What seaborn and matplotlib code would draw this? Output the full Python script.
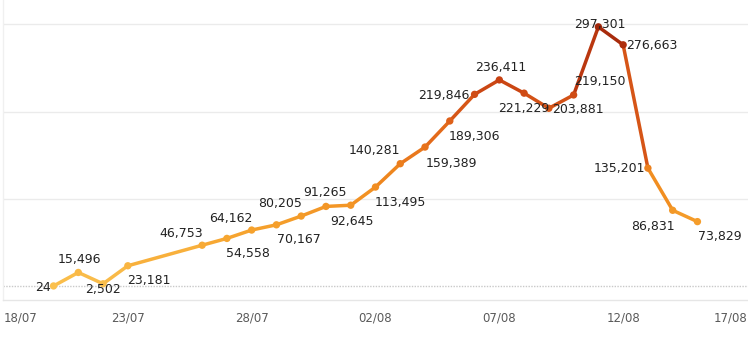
import numpy as np
import pandas as pd
import matplotlib
matplotlib.use("Agg")
import matplotlib.pyplot as plt
from matplotlib.colors import LinearSegmentedColormap, Normalize
import seaborn as sns

# ---- data ----
dates = ["2021-07-20", "2021-07-21", "2021-07-22", "2021-07-23", "2021-07-26",
         "2021-07-27", "2021-07-28", "2021-07-29", "2021-07-30", "2021-07-31",
         "2021-08-01", "2021-08-02", "2021-08-03", "2021-08-04", "2021-08-05",
         "2021-08-06", "2021-08-07", "2021-08-08", "2021-08-09", "2021-08-10",
         "2021-08-11", "2021-08-12", "2021-08-13", "2021-08-14", "2021-08-15"]
values = [24, 15496, 2502, 23181, 46753,
          54558, 64162, 70167, 80205, 91265,
          92645, 113495, 140281, 159389, 189306,
          219846, 236411, 221229, 203881, 219150,
          297301, 276663, 135201, 86831, 73829]
tick_dates = ["2021-07-18", "2021-07-23", "2021-07-28", "2021-08-02",
              "2021-08-07", "2021-08-12", "2021-08-17"]
tick_labels = ["18/07", "23/07", "28/07", "02/08", "07/08", "12/08", "17/08"]

# label offsets (pixels, x right / y up) relative to each point
label_dx = [-11, 1, 0, 21, -21, 21, -21, 22, -21, -1, 1, 25, -26, 26, 25,
            -31, 1, 0, 29, 26, 1, 29, -28, -20, 22]
label_dy = [-2, 13, -6, -15, 12, -15, 12, -15, 13, 14, -16, -15, 13, -16, -16,
            -1, 12, -15, -1, 13, 2, -1, 0, -16, -15]

df = pd.DataFrame({"date": pd.to_datetime(dates), "value": values})

sns.set_style("white")
plt.rcParams["font.family"] = ["DejaVu Sans"]

cmap = LinearSegmentedColormap.from_list(
    "tabor", ["#FAC04E", "#F6A32E", "#F08A1F", "#E2661A", "#C63F12", "#A0260A"])
norm = Normalize(vmin=0, vmax=300000)

fig = plt.figure(figsize=(7.48, 3.47), dpi=100)
ax = fig.add_axes([0.004, (347 - 300) / 347, 0.996, 300 / 347])

# grid lines
for g in [100000, 200000, 300000]:
    ax.axhline(g, color="#EBEBEB", lw=1.0, zorder=0)
ax.axhline(0, color="#C9C9C9", lw=1.0, ls=(0, (1, 1)), zorder=0)

# line segments coloured by value
for i in range(len(df) - 1):
    c = cmap(norm((values[i] + values[i + 1]) / 2))
    ax.plot(df["date"].iloc[i:i + 2], df["value"].iloc[i:i + 2],
            color=c, lw=2.5, solid_capstyle="round", zorder=2)

sns.scatterplot(data=df, x="date", y="value", hue="value", palette=cmap,
                hue_norm=norm, s=28, edgecolor="none", legend=False,
                zorder=3, ax=ax)

for d, v, dx, dy in zip(df["date"], values, label_dx, label_dy):
    ax.annotate(f"{v:,}", (d, v), xytext=(dx, dy), textcoords="offset pixels",
                ha="center", va="center", fontsize=9, color="#222222", zorder=4)

ax.set_xlim(pd.Timestamp("2021-07-18") - pd.Timedelta(hours=1),
            pd.Timestamp("2021-08-17") + pd.Timedelta(hours=1))
ax.set_ylim(-16100, 328100)
ax.set_yticks([])
ax.set_xticks(pd.to_datetime(tick_dates))
ax.set_xticklabels(tick_labels, fontsize=8.5, color="#5a5a5a")
ax.tick_params(axis="x", length=0, pad=8)
labs = ax.get_xticklabels()
labs[0].set_ha("left")
labs[-1].set_ha("right")
ax.set_xlabel("")
ax.set_ylabel("")

for s in ["top", "right"]:
    ax.spines[s].set_visible(False)
ax.spines["bottom"].set_color("#E6E6E6")
ax.spines["left"].set_color("#F0F0F0")
ax.spines["bottom"].set_linewidth(1.0)
ax.spines["left"].set_linewidth(1.0)

fig.savefig("out.png", dpi=100)
